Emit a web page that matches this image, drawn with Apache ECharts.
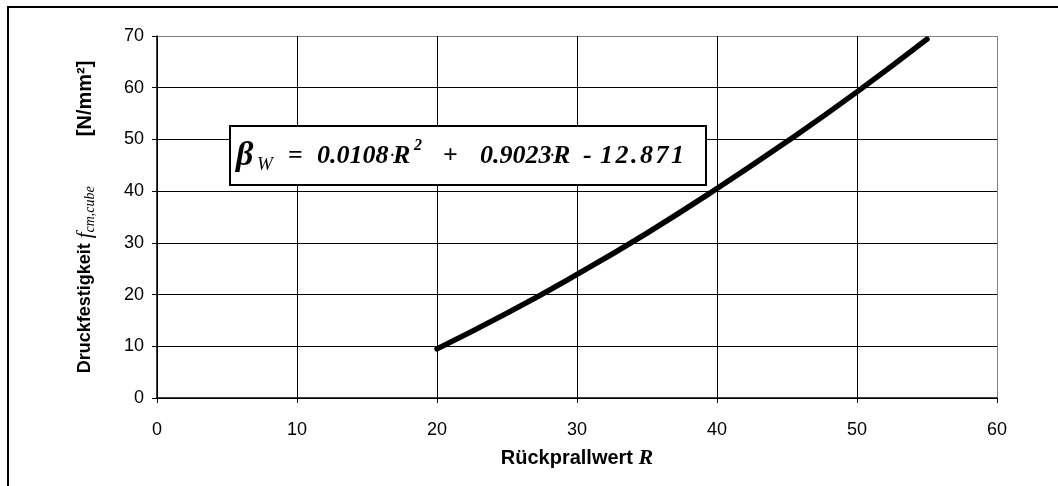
<!DOCTYPE html>
<html>
<head>
<meta charset="utf-8">
<script src="https://cdn.jsdelivr.net/npm/echarts@6/dist/echarts.min.js"></script>
<style>
html,body{margin:0;padding:0;background:#fff;}
#chart{width:1058px;height:486px;}
</style>
</head>
<body>
<div id="chart"></div>
<script>
// Data
const rValues = [20, 25, 30, 35, 40, 45, 50, 55];
const strength = [9.5, 16.4, 23.9, 31.9, 40.5, 49.6, 59.2, 69.4];
const xTicks = [0, 10, 20, 30, 40, 50, 60];
const yTicks = [0, 10, 20, 30, 40, 50, 60, 70];
const equationText =
  '{b|β}{w|W}{eq|=}{n1|0.0108}{d|·}{r1|R}{s|2}{pl|+}{n2|0.9023}{d|·}{r2|R}{mi|-}' +
  '{dg|1}{dg|2}{pt|.}{dg|8}{dg|7}{dg|1}';

const chart = echarts.init(document.getElementById('chart'));
const sans = 'Liberation Sans, Arial, sans-serif';
const serif = 'Liberation Serif, Times New Roman, serif';

const ySplitColors = yTicks.map((v, i) => i === yTicks.length - 1 ? '#808080' : '#000');
const xSplitColors = xTicks.map((v, i) => i === xTicks.length - 1 ? '#808080' : '#000');

const eqBase = { fontFamily: serif, fontWeight: 'bold', fontStyle: 'italic', fontSize: 26, fill: '#000', lineHeight: 36 };

chart.setOption({
  animation: false,
  backgroundColor: '#fff',
  grid: { left: 157, right: 61, top: 36, bottom: 88, show: false },
  xAxis: {
    type: 'value',
    min: xTicks[0], max: xTicks[xTicks.length - 1], interval: 10,
    axisLine: { show: true, onZero: false, lineStyle: { color: '#000', width: 1.5 } },
    axisTick: { show: true, length: 5, lineStyle: { color: '#000' } },
    axisLabel: { color: '#000', fontFamily: sans, fontSize: 18, margin: 23 },
    splitLine: { show: true, lineStyle: { color: xSplitColors, width: 1 } },
    name: '{a|Rückprallwert }{r|R}',
    nameLocation: 'middle',
    nameGap: 49,
    nameTextStyle: {
      rich: {
        a: { fontFamily: sans, fontWeight: 'bold', fontSize: 20, color: '#000' },
        r: { fontFamily: serif, fontWeight: 'bold', fontStyle: 'italic', fontSize: 22, color: '#000' }
      }
    }
  },
  yAxis: {
    type: 'value',
    min: yTicks[0], max: yTicks[yTicks.length - 1], interval: 10,
    axisLine: { show: true, onZero: false, lineStyle: { color: '#000', width: 1.5 } },
    axisTick: { show: true, length: 5, lineStyle: { color: '#000' } },
    axisLabel: { color: '#000', fontFamily: sans, fontSize: 18, margin: 13 },
    splitLine: { show: true, lineStyle: { color: ySplitColors, width: 1 } },
    name: '{a|Druckfestigkeit }{f|f}{c|cm,cube}{u|         [N/mm²]}',
    nameLocation: 'middle',
    nameGap: 60,
    nameTextStyle: {
      rich: {
        a: { fontFamily: sans, fontWeight: 'bold', fontSize: 18, color: '#000', lineHeight: 24 },
        u: { fontFamily: sans, fontWeight: 'bold', fontSize: 20, color: '#000', lineHeight: 24 },
        f: { fontFamily: serif, fontStyle: 'italic', fontSize: 21, color: '#000', lineHeight: 24 },
        c: { fontFamily: serif, fontStyle: 'italic', fontSize: 14, color: '#000', verticalAlign: 'bottom', lineHeight: 16 }
      }
    }
  },
  graphic: [
    { type: 'line', shape: { x1: 7, y1: 7, x2: 1058, y2: 7 }, style: { stroke: '#000', lineWidth: 2 }, z: 100 },
    { type: 'line', shape: { x1: 8, y1: 6, x2: 8, y2: 486 }, style: { stroke: '#000', lineWidth: 2 }, z: 100 },
    {
      type: 'rect', left: 229, top: 125, z: 100,
      shape: { width: 476, height: 59 },
      style: { fill: '#fff', stroke: '#000', lineWidth: 2 }
    },
    {
      type: 'text', left: 236, top: 138, z: 101,
      style: {
        text: equationText,
        rich: {
          b: Object.assign({}, eqBase, { fontSize: 34, width: 21 }),
          w: Object.assign({}, eqBase, { fontSize: 19, fontWeight: 'normal', width: 31, verticalAlign: 'bottom', lineHeight: 24 }),
          eq: Object.assign({}, eqBase, { fontStyle: 'normal', width: 29 }),
          n1: Object.assign({}, eqBase, { width: 73 }),
          n2: Object.assign({}, eqBase, { width: 70 }),
          d: Object.assign({}, eqBase, { fontStyle: 'normal', fontSize: 14, width: 3 }),
          r1: Object.assign({}, eqBase, { width: 21 }),
          r2: Object.assign({}, eqBase, { width: 30 }),
          s: Object.assign({}, eqBase, { fontSize: 16, width: 29, verticalAlign: 'top', lineHeight: 22 }),
          pl: Object.assign({}, eqBase, { fontStyle: 'normal', width: 37 }),
          mi: Object.assign({}, eqBase, { width: 17 }),
          dg: Object.assign({}, eqBase, { width: 15.5 }),
          pt: Object.assign({}, eqBase, { width: 9 })
        }
      }
    }
  ],
  series: [{
    type: 'line',
    data: rValues.map((r, i) => [r, strength[i]]),
    smooth: true,
    showSymbol: false,
    symbol: 'none',
    lineStyle: { color: '#000', width: 5.5, cap: 'round' },
    z: 5
  }]
});
</script>
</body>
</html>
